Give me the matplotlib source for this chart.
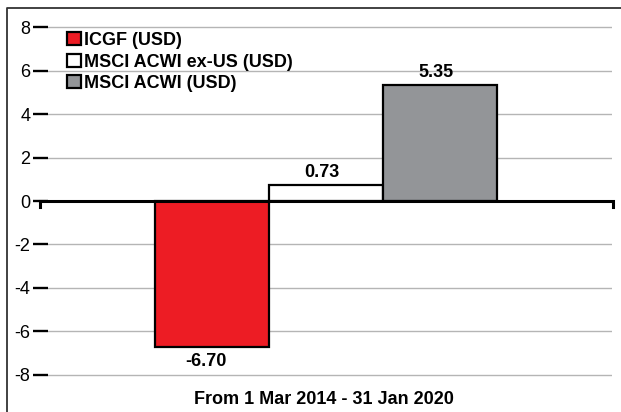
import matplotlib
matplotlib.use("Agg")
import matplotlib.pyplot as plt
from matplotlib.lines import Line2D

# data
series = ["ICGF (USD)", "MSCI ACWI ex-US (USD)", "MSCI ACWI (USD)"]
values = [-6.70, 0.73, 5.35]
value_labels = ["-6.70", "0.73", "5.35"]
colors = ["#ED1C24", "#FFFFFF", "#939598"]
yticks = [8, 6, 4, 2, 0, -2, -4, -6, -8]
xlabel = "From 1 Mar 2014 - 31 Jan 2020"

plt.rcParams['font.family'] = ['Liberation Sans', 'DejaVu Sans']

W, H = 621, 412
fig = plt.figure(figsize=(W / 100, H / 100), dpi=100)

# axes placement in pixels
ax_l, ax_r = 48, 612
ax_top, ax_bot = 14, 388
ax = fig.add_axes([ax_l / W, (H - ax_bot) / H, (ax_r - ax_l) / W, (ax_bot - ax_top) / H])

x = [0, 1, 2]
bars = ax.bar(x, values, width=1.0, color=colors, edgecolor="black",
              linewidth=1.6, zorder=3)

# value labels
for xi, v, lab in zip(x, values, value_labels):
    if v >= 0:
        ax.annotate(lab, (xi - 0.04, v), xytext=(0, 9), textcoords="offset points",
                    ha="center", va="center", fontsize=13, fontweight="bold")
    else:
        ax.annotate(lab, (xi - 0.06, v), xytext=(0, -11), textcoords="offset points",
                    ha="center", va="center", fontsize=13, fontweight="bold")

px = 114.0
x0 = 212.5
ax.set_xlim((ax_l - x0) / px, (ax_r - x0) / px)
ax.set_ylim(-8.6, 8.6)
ax.set_yticks(yticks)
ax.set_yticklabels([str(t) if t >= 0 else "-" + str(-t) for t in yticks])
ax.set_xticks([])
ax.tick_params(axis="y", direction="out", length=10.8, width=1.7,
               pad=2, labelsize=13, color="black")
for s in ax.spines.values():
    s.set_visible(False)
ax.grid(axis="y", color="#b5b5b5", linewidth=1.0, zorder=0)
ax.set_axisbelow(True)

# thick zero line with small hooks at the ends
xl, xr = (40 - x0) / px, (613 - x0) / px
ax.plot([xl, xl, xr, xr], [-0.28, 0, 0, -0.28], color="black", linewidth=2.2,
        clip_on=False, zorder=4, solid_joinstyle="miter")

# legend
handles = [plt.Rectangle((0, 0), 1, 1, facecolor=c, edgecolor="black", linewidth=1.6)
           for c in colors]
leg = ax.legend(handles, series, loc="upper left",
                bbox_to_anchor=((67 - ax_l) / (ax_r - ax_l), 1 - (32 - ax_top) / (ax_bot - ax_top)),
                frameon=False, prop={"weight": "bold", "size": 13},
                handlelength=0.75, handleheight=0.75, handletextpad=0.2,
                labelspacing=0.25, borderpad=0, borderaxespad=0)

fig.text(324 / W, 1 - 400 / H, xlabel, ha="center", va="center",
         fontsize=13, fontweight="bold")

# outer frame (left and top)
fig.add_artist(Line2D([7 / W, 7 / W, 1.0], [0, 1 - 8 / H, 1 - 8 / H],
                      transform=fig.transFigure, color="#333333", linewidth=1.3))

fig.savefig("out.png", dpi=100)
